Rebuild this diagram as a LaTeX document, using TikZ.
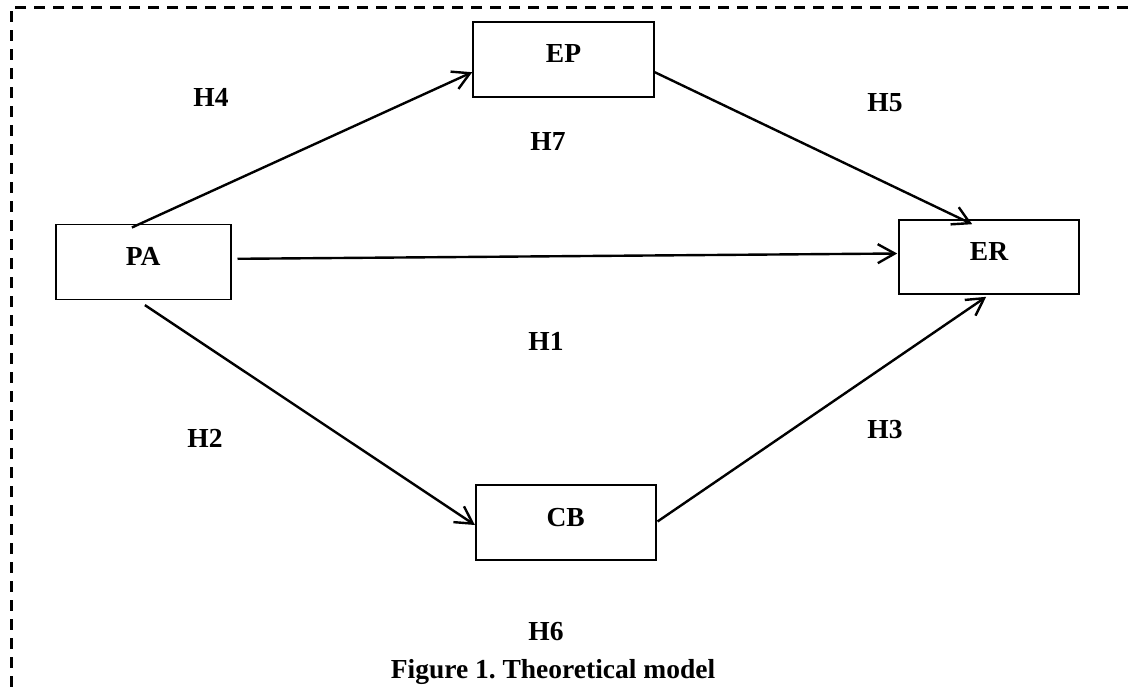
\documentclass[tikz,border=0pt]{standalone}
\usepackage{fontspec}
\setmainfont{Liberation Serif}
\usetikzlibrary{arrows.meta,calc}
\begin{document}
\begin{tikzpicture}[x=1pt,y=-1pt,
 box/.style={draw, line width=1.6pt, minimum width=180pt, minimum height=75pt, inner sep=0pt, font=\fontsize{27.5}{30}\selectfont\bfseries, text depth=11pt},
 lbl/.style={font=\fontsize{27.5}{30}\selectfont\bfseries, inner sep=0pt},
 arr/.style={line width=2.4pt, -{Straight Barb[length=17pt,width=19pt]}}]
\useasboundingbox (0,0) rectangle (1128,694);
\coordinate (bTR) at (1128,7);
\coordinate (bTL) at (11,7);
\coordinate (bBL) at (11,694);
\draw[line width=3pt, dash pattern=on 11pt off 8pt] (bTR) -- (bTL) -- (bBL);

\node[box, minimum width=175pt] (PA) at (143.2,261.8) {PA};
\node[box, minimum width=181pt] (EP) at (563.5,59.2) {EP};
\node[box, minimum height=74pt] (ER) at (989,257) {ER};
\node[box] (CB) at (565.7,522.5) {CB};

\draw[arr] ($(PA.north west)+(77,4)$) -- ($(EP.west)+(0,13)$);
\draw[arr] ($(PA.east)+(6,-3)$) -- ($(ER.west)+(-1,-3.5)$);
\draw[arr] ($(PA.south west)+(90,5)$) -- ($(CB.west)+(0,2.5)$);
\draw[arr] ($(EP.east)+(0,13)$) -- ($(ER.north west)+(74,5)$);
\draw[arr] ($(CB.east)+(1,-1)$) -- ($(ER.south west)+(88,2)$);

\node[lbl] (H4) at (211,97.5) {H4};
\node[lbl] (H7) at (548,141) {H7};
\node[lbl] (H5) at (885,103) {H5};
\node[lbl] (H1) at (546,341) {H1};
\node[lbl] (H2) at (205,438) {H2};
\node[lbl] (H3) at (885,430) {H3};
\node[lbl] (H6) at (546,632) {H6};
\node[lbl] (cap) at (553,672) {Figure 1.\ Theoretical model};
\end{tikzpicture}
\end{document}
